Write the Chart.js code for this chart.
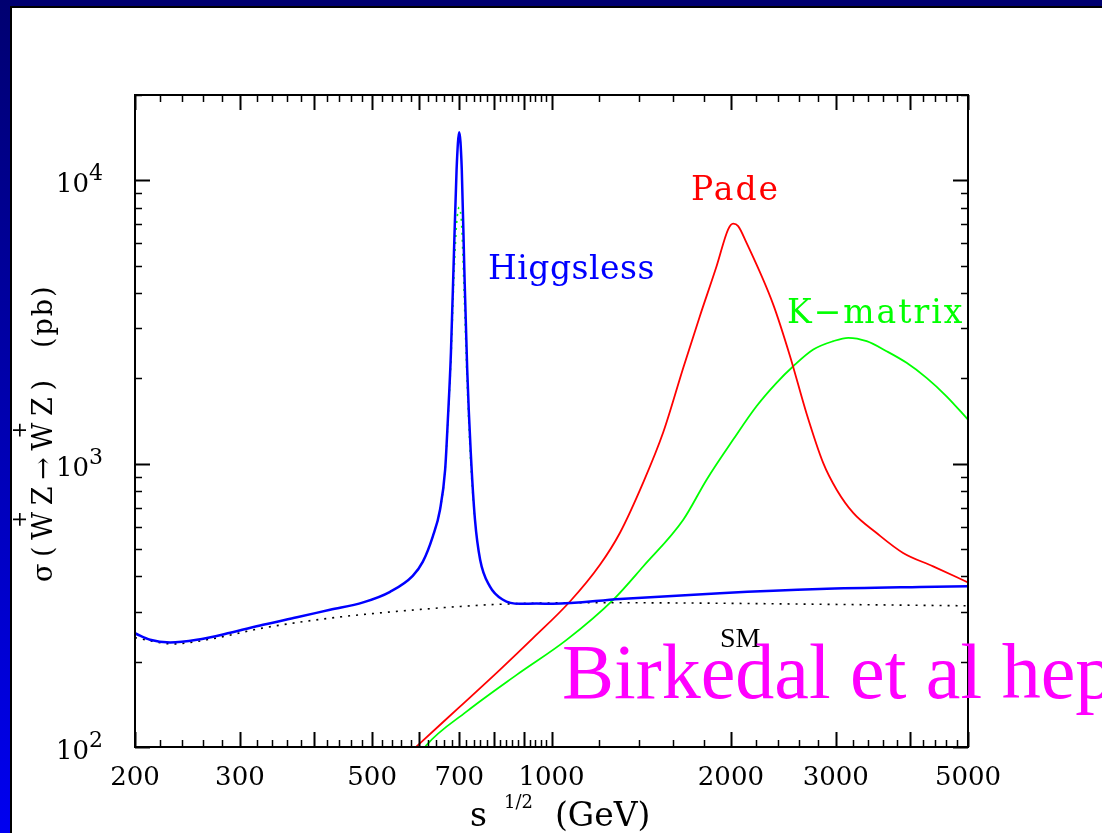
<!DOCTYPE html>
<html>
<head>
<meta charset="utf-8">
<script src="https://cdn.jsdelivr.net/npm/chart.js@4.4.1/dist/chart.umd.min.js"></script>
<style>
  html, body { margin: 0; padding: 0; }
  body { width: 1102px; height: 833px; overflow: hidden; position: relative;
         background: linear-gradient(#000070, #0000f0); }
  #sheet { position: absolute; left: 10px; top: 6px; right: 0; bottom: 0;
           background: #fff; border-left: 2px solid #000; border-top: 2px solid #000; }
  #wz { position: absolute; left: 0; top: 0; }
</style>
</head>
<body>
<div id="sheet"></div>
<canvas id="wz" width="1102" height="833"></canvas>
<script>
// sqrt(s) in GeV, sigma in pb
const higgslessS = [200, 212, 229, 254, 289, 328, 374, 425, 483, 536, 585, 608, 632, 650, 663, 670, 678, 686, 693, 700, 707, 714, 722, 732, 744, 759, 788, 829, 885, 944, 1005, 1303, 1917, 2820, 4150, 5000];
const higgslessSigma = [252, 239, 234, 239, 253, 270, 287, 305, 324, 353, 402, 450, 553, 688, 952, 1431, 2468, 5567, 10940, 14780, 10940, 4848, 2149, 1094, 634, 458, 369, 331, 320, 321, 320, 333, 349, 361, 367, 369];

// dotted green companion under the Higgsless peak
const peakS = [632, 650, 663, 670, 678, 686, 693, 700, 707, 714, 722, 732, 744];
const peakSigma = [553, 688, 952, 1400, 2300, 4600, 7000, 8030, 6800, 3800, 1900, 1000, 620];

const smS = [200, 232, 264, 328, 425, 550, 819, 1206, 1774, 2820, 5000];
const smSigma = [243, 231, 239, 263, 285, 301, 319, 323, 322, 319, 315];

const padeS = [585, 597, 702, 819, 931, 1074, 1206, 1303, 1425, 1540, 1664, 1774, 1893, 1979, 2018, 2057, 2124, 2355, 2513, 2680, 2857, 3010, 3209, 3512, 3891, 4370, 5000];
const padeSigma = [97.6, 101.6, 138.8, 187.2, 242.2, 326.2, 439.7, 570.4, 857, 1290, 2180, 3315, 4981, 6713, 7031, 6894, 6025, 3650, 2400, 1500, 1006, 809, 670, 569, 484, 434, 381];

const kmatS = [609, 617, 720, 874, 1060, 1269, 1425, 1664, 1821, 2018, 2208, 2386, 2545, 2750, 2970, 3148, 3380, 3650, 3944, 4260, 4602, 5000];
const kmatSigma = [97.6, 101.6, 133.3, 179.7, 238.8, 330.7, 433.6, 634, 878, 1216, 1594, 1929, 2207, 2528, 2705, 2781, 2705, 2494, 2269, 2008, 1729, 1430];

const xTickLabels = [200, 300, 500, 700, 1000, 2000, 3000, 5000];
const xMajorTicks = [200, 300, 400, 500, 600, 700, 800, 900, 1000, 2000, 3000, 4000, 5000];
const yTickLabels = [100, 1000, 10000];

function pts(xs, ys) {
  return xs.map((x, i) => ({ x: x, y: ys[i] }));
}

const serif = '"DejaVu Serif", serif';

// frame, inward ticks, y tick labels, axis titles and curve labels
const decorations = {
  id: 'decorations',
  afterDraw(chart) {
    const ctx = chart.ctx;
    const a = chart.chartArea;
    const x = chart.scales.x;
    const y = chart.scales.y;
    ctx.save();
    ctx.strokeStyle = '#000';
    ctx.lineWidth = 2;
    ctx.strokeRect(a.left, a.top, a.right - a.left, a.bottom - a.top);

    function xTick(v, len) {
      const px = Math.round(x.getPixelForValue(v)) + 0.5;
      ctx.moveTo(px, a.bottom); ctx.lineTo(px, a.bottom - len);
      ctx.moveTo(px, a.top); ctx.lineTo(px, a.top + len);
    }
    function yTick(v, len) {
      const py = Math.round(y.getPixelForValue(v)) + 0.5;
      ctx.moveTo(a.left, py); ctx.lineTo(a.left + len, py);
      ctx.moveTo(a.right, py); ctx.lineTo(a.right - len, py);
    }

    ctx.beginPath();
    ctx.lineWidth = 2;
    xMajorTicks.forEach(v => xTick(v, 15));
    yTickLabels.forEach(v => yTick(v, 15));
    ctx.stroke();

    ctx.beginPath();
    ctx.lineWidth = 1.5;
    for (let i = 0; i < xMajorTicks.length - 1; i++) {
      const step = (xMajorTicks[i + 1] - xMajorTicks[i]) / 5;
      for (let k = 1; k < 5; k++) xTick(xMajorTicks[i] + k * step, 7);
    }
    for (let d = 100; d <= 10000; d *= 10) {
      for (let k = 2; k <= 9; k++) {
        if (k * d <= 20000) yTick(k * d, 7);
      }
    }
    ctx.stroke();

    // y tick labels 10^n
    ctx.fillStyle = '#000';
    ctx.textAlign = 'left';
    ctx.textBaseline = 'alphabetic';
    yTickLabels.forEach(v => {
      const py = y.getPixelForValue(v);
      ctx.font = '26px ' + serif;
      ctx.fillText('10', 56, py + 12);
      ctx.font = '22px ' + serif;
      ctx.fillText(String(Math.round(Math.log10(v))), 89, py);
    });

    // x title
    ctx.font = '33px ' + serif;
    ctx.fillText('s', 470, 826);
    ctx.fillText('(GeV)', 555, 826);
    ctx.font = '18px ' + serif;
    ctx.fillText('1/2', 504, 808);

    // y title, rotated; spread to the length it has in the figure
    ctx.save();
    ctx.translate(52, 582);
    ctx.rotate(-Math.PI / 2);
    ctx.font = '27px ' + serif;
    const main = 'σ(WZ→WZ)';
    const natural = ctx.measureText(main).width;
    const gap = (202 - natural) / (main.length - 1);
    ctx.letterSpacing = gap + 'px';
    ctx.fillText(main, 0, 0);
    const plusAt = [];
    ['σ(W', 'σ(WZ→W'].forEach(pre => {
      plusAt.push(ctx.measureText(pre).width - gap);
    });
    ctx.letterSpacing = '2px';
    ctx.fillText('(pb)', 234, 0);
    ctx.letterSpacing = '0px';
    ctx.font = '20px ' + serif;
    const plusW = ctx.measureText('+').width;
    plusAt.forEach(u => ctx.fillText('+', u - plusW + 1, -26));
    ctx.restore();

    // curve labels
    ctx.font = '33px ' + serif;
    ctx.fillStyle = '#0000ff';
    ctx.letterSpacing = '0.5px';
    ctx.fillText('Higgsless', 488, 279);
    ctx.letterSpacing = '2px';
    ctx.fillStyle = '#ff0000';
    ctx.fillText('Pade', 691, 200);
    ctx.fillStyle = '#00ff00';
    ctx.fillText('K\u2212matrix', 787, 323);
    ctx.letterSpacing = '0px';
    ctx.fillStyle = '#000';
    ctx.font = '28px "Liberation Serif", serif';
    ctx.fillText('SM', 720, 647);
    ctx.fillStyle = '#ff00ff';
    ctx.font = '78px "Liberation Serif", serif';
    ctx.fillText('Birkedal et al hep', 562, 698);
    ctx.restore();
  }
};

new Chart(document.getElementById('wz'), {
  type: 'scatter',
  data: {
    datasets: [
      { label: 'Higgsless', data: pts(higgslessS, higgslessSigma), showLine: true,
        borderColor: '#0000ff', borderWidth: 2.5, pointRadius: 0, cubicInterpolationMode: 'monotone' },
      { label: 'SM', data: pts(smS, smSigma), showLine: true,
        borderColor: '#000', borderWidth: 1.6, borderDash: [2, 6], pointRadius: 0, cubicInterpolationMode: 'monotone' },
      { label: 'Pade', data: pts(padeS, padeSigma), showLine: true,
        borderColor: '#ff0000', borderWidth: 1.8, pointRadius: 0, cubicInterpolationMode: 'monotone' },
      { label: 'K-matrix', data: pts(kmatS, kmatSigma), showLine: true,
        borderColor: '#00ff00', borderWidth: 1.8, pointRadius: 0, cubicInterpolationMode: 'monotone' },
      { label: 'K-matrix peak', data: pts(peakS, peakSigma), showLine: true,
        borderColor: '#00ff00', borderWidth: 1.6, borderDash: [2, 5], pointRadius: 0, cubicInterpolationMode: 'monotone' }
    ]
  },
  options: {
    responsive: false,
    animation: false,
    devicePixelRatio: 1,
    layout: { padding: { left: 0, top: 95, right: 134, bottom: 0 } },
    plugins: { legend: { display: false }, tooltip: { enabled: false } },
    scales: {
      x: {
        type: 'logarithmic',
        min: 200,
        max: 5000,
        grid: { display: false, drawTicks: false },
        border: { display: false },
        afterBuildTicks: scale => { scale.ticks = xTickLabels.map(v => ({ value: v })); },
        afterFit: scale => { scale.height = 86; },
        ticks: {
          autoSkip: false,
          maxRotation: 0,
          padding: 16,
          color: '#000',
          font: { family: 'DejaVu Serif', size: 26 },
          callback: v => String(v)
        }
      },
      y: {
        type: 'logarithmic',
        min: 100,
        max: 20000,
        grid: { display: false, drawTicks: false },
        border: { display: false },
        afterFit: scale => { scale.width = 135; },
        ticks: { display: false }
      }
    }
  },
  plugins: [decorations]
});
</script>
</body>
</html>
